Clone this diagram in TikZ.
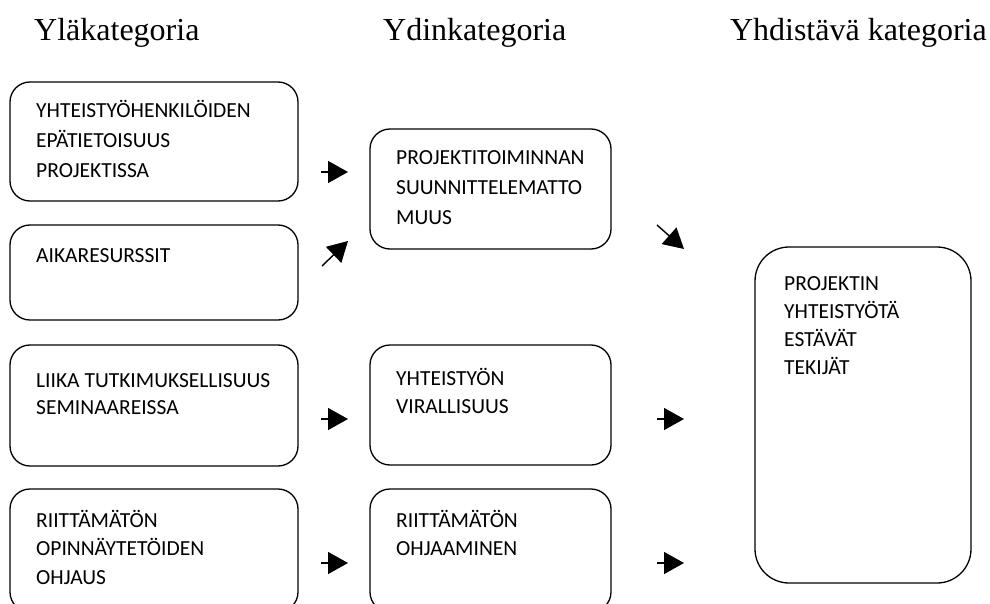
\documentclass[tikz,border=0pt]{standalone}
\usepackage{fontspec}
\setmainfont{Liberation Serif}
\newfontfamily\boxfont{Carlito}
\usetikzlibrary{arrows.meta}
\tikzset{
  catbox/.style={draw=black, line width=1.3pt, rounded corners=20pt, fill=none},
  bigbox/.style={draw=black, line width=1.3pt, rounded corners=34pt},
  txt/.style={anchor=base west, inner sep=0pt, font=\boxfont\fontsize{21.5}{26}\selectfont},
  head/.style={anchor=base west, inner sep=0pt, font=\fontsize{32}{38}\selectfont},
  arr/.style={line width=1.4pt, -{Triangle[length=20pt,width=22pt]}}
}
\begin{document}
\begin{tikzpicture}[x=1pt,y=-1pt]
\useasboundingbox (0,0) rectangle (990,604);
\clip (0,0) rectangle (990,604);
% headers
\node[head] (h1) at (34,41) {Yläkategoria};
\node[head] (h2) at (383,41) {Ydinkategoria};
\node[head, anchor=base east] (h3) at (987,41) {Yhdistävä kategoria};
% boxes (left column)
\draw[catbox] (10,82) rectangle (298,201);
\node[txt] (a1) at (36,118) {YHTEISTYÖHENKILÖIDEN};
\node[txt] (a2) at (36,148) {EPÄTIETOISUUS};
\node[txt] (a3) at (36,178) {PROJEKTISSA};
\draw[catbox] (10,225) rectangle (298,320);
\node[txt] (b1) at (36,262) {AIKARESURSSIT};
\draw[catbox] (10,345) rectangle (298,466);
\node[txt] (c1) at (36,387) {LIIKA TUTKIMUKSELLISUUS};
\node[txt] (c2) at (36,414) {SEMINAAREISSA};
\draw[catbox] (10,489) rectangle (298,612);
\node[txt] (d1) at (36,527) {RIITTÄMÄTÖN};
\node[txt] (d2) at (36,555) {OPINNÄYTETÖIDEN};
\node[txt] (d3) at (36,584) {OHJAUS};
% middle column
\draw[catbox] (370,129) rectangle (611,249);
\node[txt] (e1) at (396,165) {PROJEKTITOIMINNAN};
\node[txt] (e2) at (396,195) {SUUNNITTELEMATTO};
\node[txt] (e3) at (396,225) {MUUS};
\draw[catbox] (370,345) rectangle (611,465);
\node[txt] (f1) at (396,385) {YHTEISTYÖN};
\node[txt] (f2) at (396,413) {VIRALLISUUS};
\draw[catbox] (370,489) rectangle (611,612);
\node[txt] (g1) at (396,527) {RIITTÄMÄTÖN};
\node[txt] (g2) at (396,555) {OHJAAMINEN};
% right box
\draw[bigbox] (755,247) rectangle (971,583);
\node[txt] (h1t) at (784,290) {PROJEKTIN};
\node[txt] (h2t) at (784,318) {YHTEISTYÖTÄ};
\node[txt] (h3t) at (784,346) {ESTÄVÄT};
\node[txt] (h4t) at (784,374) {TEKIJÄT};
% arrow end points
\coordinate (p1s) at (321,172); \coordinate (p1e) at (348,172);
\coordinate (p2s) at (322,266); \coordinate (p2e) at (348,241);
\coordinate (p3s) at (657,225); \coordinate (p3e) at (684,249);
\coordinate (p4s) at (321,419); \coordinate (p4e) at (348,419);
\coordinate (p5s) at (657,419); \coordinate (p5e) at (684,419);
\coordinate (p6s) at (321,563); \coordinate (p6e) at (348,563);
\coordinate (p7s) at (657,563); \coordinate (p7e) at (684,563);
\draw[arr] (p1s) -- (p1e);
\draw[arr] (p2s) -- (p2e);
\draw[arr] (p3s) -- (p3e);
\draw[arr] (p4s) -- (p4e);
\draw[arr] (p5s) -- (p5e);
\draw[arr] (p6s) -- (p6e);
\draw[arr] (p7s) -- (p7e);
\end{tikzpicture}
\end{document}
